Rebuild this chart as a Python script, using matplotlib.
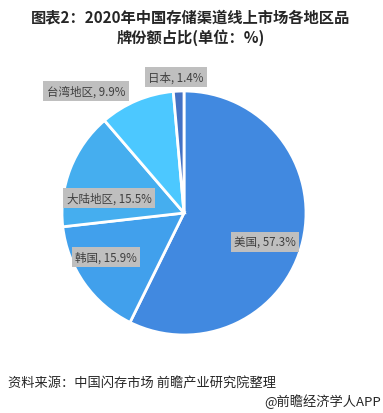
import matplotlib
matplotlib.use('Agg')
import matplotlib.pyplot as plt

plt.rcParams['font.family'] = ['Noto Sans CJK SC', 'DejaVu Sans']

# data
regions = ['美国', '韩国', '大陆地区', '台湾地区', '日本']
shares = [57.3, 15.9, 15.5, 9.9, 1.4]
colors = ['#4189E0', '#41A0EC', '#45AEEF', '#4CC8FF', '#4472C4']

# label centres in figure pixels (from top-left)
label_pos = [(265, 243), (106, 258), (109, 199), (86, 92), (176, 78)]

W, H = 383, 414
fig = plt.figure(figsize=(W / 100, H / 100), dpi=100)

# pie: centre (184, 214), radius 122 px
cx, cy, r = 184, 214, 122
ax = fig.add_axes([(cx - r) / W, (H - cy - r) / H, 2 * r / W, 2 * r / H])
ax.pie(shares, colors=colors, startangle=90, counterclock=False, radius=1,
       wedgeprops=dict(edgecolor='white', linewidth=2))
ax.set_xlim(-1, 1)
ax.set_ylim(-1, 1)
ax.set_aspect('auto')
ax.axis('off')

for name, val, (px, py) in zip(regions, shares, label_pos):
    fig.text(px / W, 1 - py / H, f'{name}, {val}%', ha='center', va='center',
             fontsize=8.3, color='#404040',
             bbox=dict(boxstyle='square,pad=0.3', facecolor='#BFBFBF', edgecolor='none'))

fig.text(191 / W, 1 - 17 / H, '图表2：2020年中国存储渠道线上市场各地区品',
         ha='center', va='center', fontsize=11, fontweight='bold', color='#262626')
fig.text(191 / W, 1 - 38 / H, '牌份额占比(单位：%)',
         ha='center', va='center', fontsize=11, fontweight='bold', color='#262626')

fig.text(8 / W, 1 - 383 / H, '资料来源：中国闪存市场 前瞻产业研究院整理',
         ha='left', va='center', fontsize=9.5, color='#262626')
fig.text(381 / W, 1 - 402 / H, '@前瞻经济学人APP',
         ha='right', va='center', fontsize=9.5, color='#262626')

fig.savefig('out.png', dpi=100)
